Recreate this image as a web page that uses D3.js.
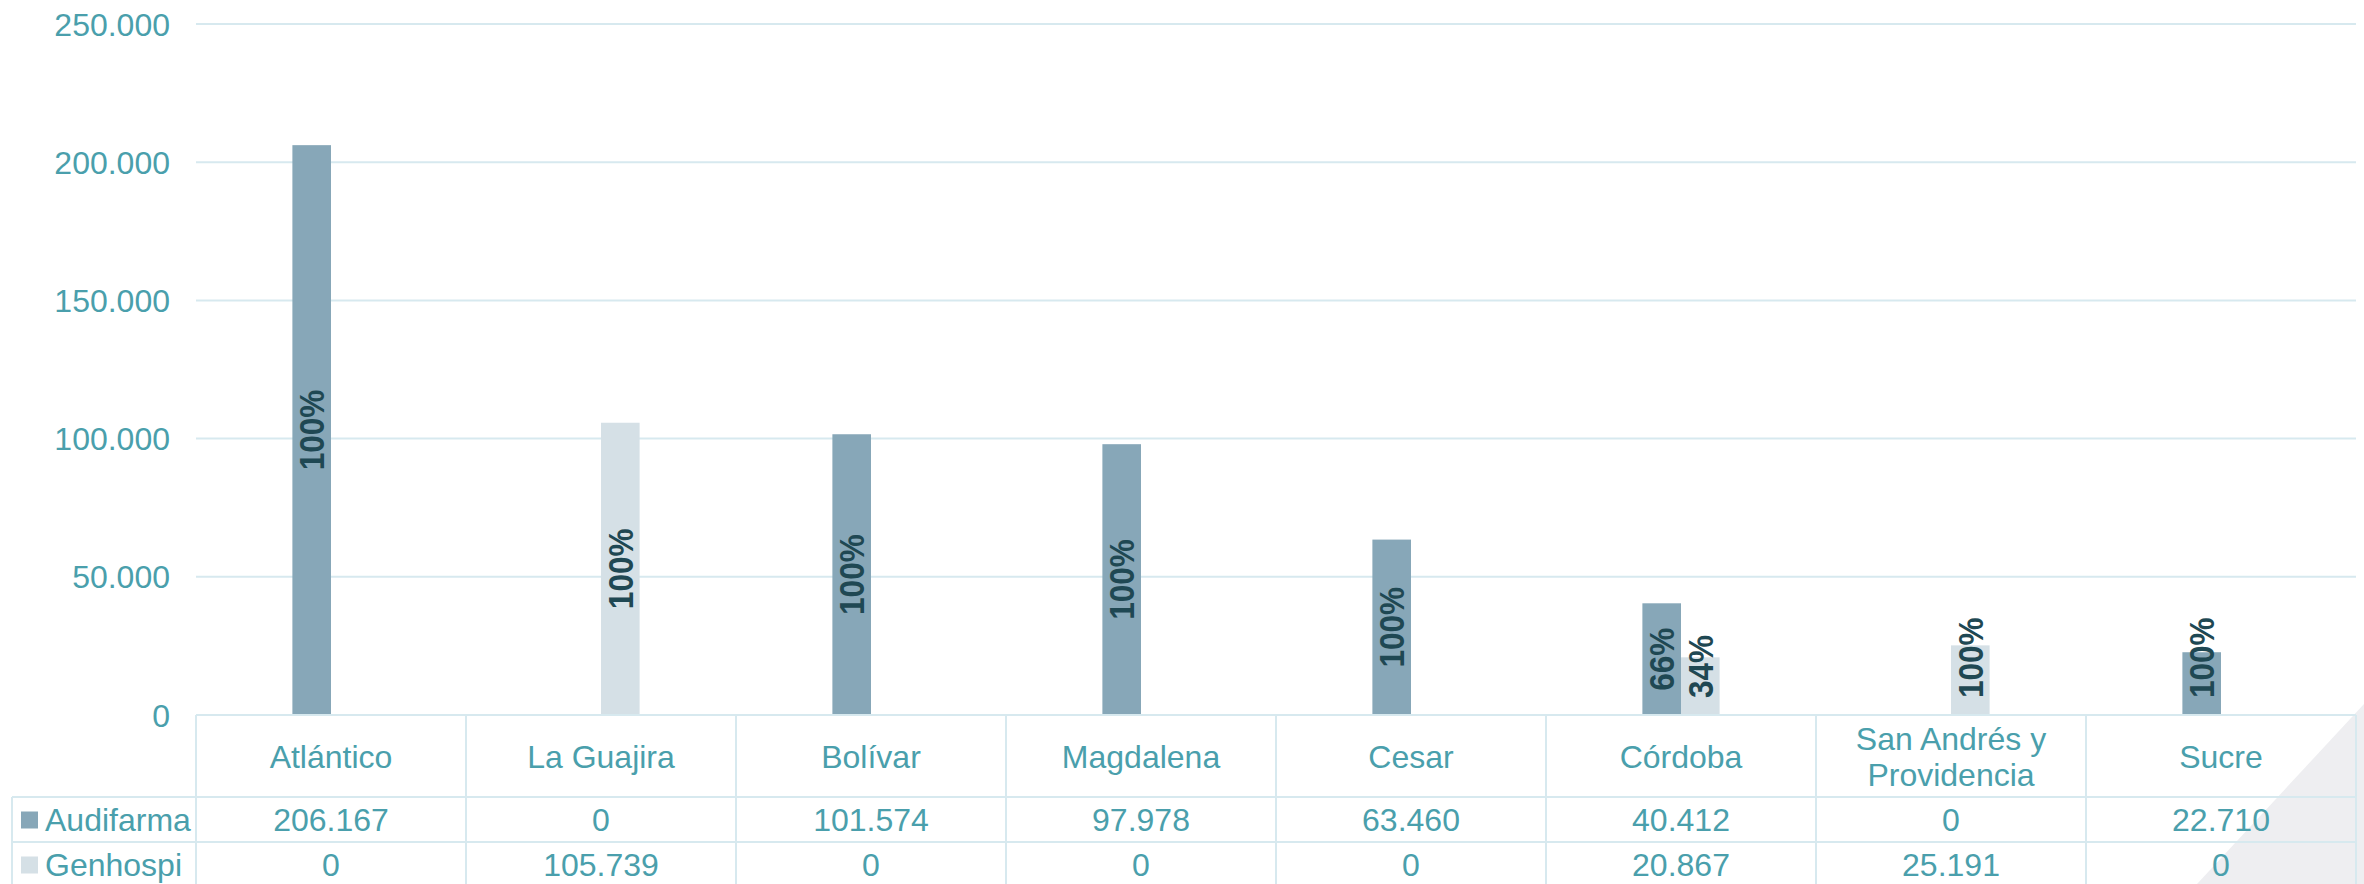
<!DOCTYPE html>
<html>
<head>
<meta charset="utf-8">
<script src="https://cdn.jsdelivr.net/npm/d3@7"></script>
<style>
  html, body { margin: 0; padding: 0; background: #ffffff; }
  svg { display: block; }
  text { font-family: "Liberation Sans", Arial, sans-serif; }
</style>
</head>
<body>
<svg id="chart" width="2364" height="884"></svg>
<script>
// ---- data ----
const categories = ["Atlántico", "La Guajira", "Bolívar", "Magdalena", "Cesar", "Córdoba", "San Andrés y Providencia", "Sucre"];
const seriesNames = ["Audifarma", "Genhospi"];
const audifarma = [206167, 0, 101574, 97978, 63460, 40412, 0, 22710];
const genhospi = [0, 105739, 0, 0, 0, 20867, 25191, 0];
const yTicks = [0, 50000, 100000, 150000, 200000, 250000];
const seriesColors = ["#87a7b8", "#d5e0e6"];

// ---- layout ----
const W = 2364, H = 884;
const plotLeft = 196, plotRight = 2356, plotTop = 24, plotBase = 715;
const catRowH = 82, rowH = 45, legendLeft = 12;
const teal = "#4a9fac";
const lineColor = "#d7e9ef";
const labelColor = "#1f4853";
const fontSize = 32;

const locale = d3.formatLocale({ decimal: ",", thousands: ".", grouping: [3], currency: ["$", ""] });
const fmt = locale.format(",d");
const pct = d3.format(".0%");

const values = [audifarma, genhospi];
const rows = categories.map((c, i) => ({
  cat: c,
  vals: seriesNames.map((s, j) => ({ s, j, v: values[j][i], total: audifarma[i] + genhospi[i] }))
}));

const svg = d3.select("#chart");

// background triangle
svg.append("path")
  .attr("d", `M${W},704 L${W},${H} L2197,${H} Z`)
  .attr("fill", "#eeeef1");

const y = d3.scaleLinear().domain([0, 250000]).range([plotBase, plotTop]);
const x0 = d3.scaleBand().domain(categories).range([plotLeft, plotRight]).padding(0);
const bw = x0.bandwidth();
const barW = bw * 0.143;
const x1 = d3.scaleBand().domain(seriesNames).range([bw / 2 - barW, bw / 2 + barW]).padding(0);

// gridlines
svg.append("g").selectAll("line").data(yTicks).join("line")
  .attr("x1", plotLeft).attr("x2", plotRight)
  .attr("y1", d => y(d)).attr("y2", d => y(d))
  .attr("stroke", lineColor).attr("stroke-width", 2);

// y tick labels
svg.append("g").selectAll("text").data(yTicks).join("text")
  .attr("x", 170).attr("y", d => y(d)).attr("dy", "0.36em")
  .attr("text-anchor", "end")
  .attr("font-size", fontSize).attr("fill", teal)
  .text(d => fmt(d));

// bars
const groups = svg.append("g").selectAll("g").data(rows).join("g")
  .attr("transform", d => `translate(${x0(d.cat)},0)`);

groups.selectAll("rect").data(d => d.vals.filter(v => v.v > 0)).join("rect")
  .attr("x", d => x1(d.s)).attr("width", x1.bandwidth())
  .attr("y", d => y(d.v)).attr("height", d => y(0) - y(d.v))
  .attr("fill", d => seriesColors[d.j]);

// data labels (rotated, bold)
const lblScale = 0.9;
groups.selectAll("text.lbl").data(d => d.vals.filter(v => v.v > 0)).join("text")
  .attr("class", "lbl")
  .attr("font-size", 35).attr("font-weight", "bold").attr("fill", labelColor)
  .attr("text-anchor", "middle").attr("dy", "0.36em")
  .text(d => pct(d.v / d.total))
  .each(function (d) {
    const len = this.getComputedTextLength() * lblScale;
    const center = (y(d.v) + y(0)) / 2;
    const cy = Math.min(center, y(0) - 17 - len / 2);
    const cx = x1(d.s) + x1.bandwidth() / 2;
    d3.select(this).attr("transform", `translate(${cx},${cy}) rotate(-90) scale(${lblScale},1)`);
  });

// ---- data table ----
const tbl = svg.append("g");
const row1Top = plotBase + catRowH, row2Top = row1Top + rowH;
[[plotLeft, plotBase], [legendLeft, row1Top], [legendLeft, row2Top]].forEach(([xs, yy]) => {
  tbl.append("line").attr("x1", xs).attr("x2", plotRight).attr("y1", yy).attr("y2", yy)
    .attr("stroke", lineColor).attr("stroke-width", 2);
});
const colEdges = categories.map(c => x0(c)).concat([plotRight]);
tbl.selectAll("line.v").data(colEdges).join("line").attr("class", "v")
  .attr("x1", d => d).attr("x2", d => d).attr("y1", plotBase).attr("y2", H + 5)
  .attr("stroke", lineColor).attr("stroke-width", 2);
tbl.append("line").attr("x1", legendLeft).attr("x2", legendLeft).attr("y1", row1Top).attr("y2", H + 5)
  .attr("stroke", lineColor).attr("stroke-width", 2);

// category labels with wrapping
tbl.selectAll("text.cat").data(categories).join("text").attr("class", "cat")
  .attr("font-size", fontSize).attr("fill", teal).attr("text-anchor", "middle")
  .each(function (c) {
    const t = d3.select(this);
    const cx = x0(c) + bw / 2;
    const words = c.split(" ");
    const lines = [];
    let cur = [];
    words.forEach(w => {
      const test = cur.concat([w]).join(" ");
      t.text(test);
      if (this.getComputedTextLength() > bw - 20 && cur.length) {
        lines.push(cur.join(" "));
        cur = [w];
      } else cur.push(w);
    });
    lines.push(cur.join(" "));
    t.text(null);
    const lh = 36;
    const cy = plotBase + catRowH / 2;
    lines.forEach((ln, k) => {
      t.append("tspan").attr("x", cx)
        .attr("y", cy + (k - (lines.length - 1) / 2) * lh)
        .attr("dy", "0.36em").text(ln);
    });
  });

// series rows
seriesNames.forEach((s, j) => {
  const rt = j === 0 ? row1Top : row2Top;
  const cy = rt + rowH / 2;
  tbl.append("rect").attr("x", 21).attr("y", cy - 8).attr("width", 17).attr("height", 17)
    .attr("fill", seriesColors[j]);
  tbl.append("text").attr("x", 45).attr("y", cy).attr("dy", "0.36em")
    .attr("font-size", fontSize).attr("fill", teal).text(s);
  tbl.selectAll(null).data(categories).join("text")
    .attr("x", (c) => x0(c) + bw / 2).attr("y", cy).attr("dy", "0.36em")
    .attr("text-anchor", "middle").attr("font-size", fontSize).attr("fill", teal)
    .text((c, i) => fmt(values[j][i]));
});
</script>
</body>
</html>
